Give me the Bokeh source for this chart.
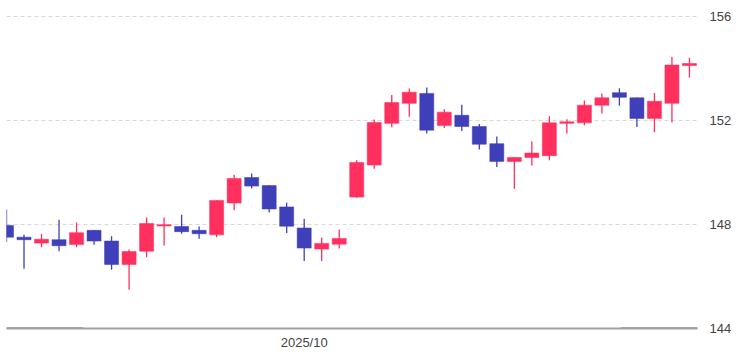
from bokeh.plotting import figure
from bokeh.models import Range1d, FixedTicker, ColumnDataSource
from bokeh.embed import file_html
from bokeh.resources import INLINE

dates = ["2025-09-08", "2025-09-09", "2025-09-10", "2025-09-11", "2025-09-12",
         "2025-09-15", "2025-09-16", "2025-09-17", "2025-09-18", "2025-09-19",
         "2025-09-22", "2025-09-23", "2025-09-24", "2025-09-25", "2025-09-26",
         "2025-09-29", "2025-09-30", "2025-10-01", "2025-10-02", "2025-10-03",
         "2025-10-06", "2025-10-07", "2025-10-08", "2025-10-09", "2025-10-10",
         "2025-10-13", "2025-10-14", "2025-10-15", "2025-10-16", "2025-10-17",
         "2025-10-20", "2025-10-21", "2025-10-22", "2025-10-23", "2025-10-24",
         "2025-10-27", "2025-10-28", "2025-10-29", "2025-10-30", "2025-10-31"]
opens = [147.96, 147.51, 147.28, 147.41, 147.23, 147.77, 147.36, 146.46, 146.97, 147.94,
         147.92, 147.77, 147.60, 148.82, 149.80, 149.49, 148.67, 147.86, 147.05, 147.24,
         149.05, 150.28, 151.88, 152.65, 153.03, 151.80, 152.19, 151.76, 151.10, 150.42,
         150.57, 150.64, 151.88, 151.90, 152.58, 153.06, 152.86, 152.07, 152.65, 154.10]
highs = [148.57, 147.60, 147.63, 148.18, 148.07, 147.78, 147.54, 147.03, 148.26, 148.26,
         148.37, 147.92, 148.93, 149.91, 149.95, 149.51, 148.83, 148.22, 147.50, 147.80,
         150.46, 152.03, 152.97, 153.22, 153.26, 152.42, 152.60, 151.86, 151.38, 150.58,
         151.19, 152.15, 152.04, 152.76, 153.03, 153.23, 152.87, 153.05, 154.43, 154.40]
lows = [147.32, 146.30, 147.12, 146.97, 147.12, 147.22, 146.26, 145.49, 146.74, 147.19,
        147.64, 147.45, 147.51, 148.54, 149.38, 148.46, 147.67, 146.59, 146.59, 147.07,
        149.01, 150.14, 151.73, 152.13, 151.49, 151.70, 151.59, 150.88, 150.20, 149.37,
        150.26, 150.46, 151.49, 151.81, 152.26, 152.56, 151.74, 151.54, 151.91, 153.64]
closes = [147.51, 147.41, 147.43, 147.18, 147.68, 147.36, 146.46, 146.96, 148.03, 147.99,
          147.72, 147.64, 148.92, 149.76, 149.47, 148.59, 147.93, 147.09, 147.27, 147.46,
          150.38, 151.91, 152.68, 153.08, 151.62, 152.31, 151.76, 151.08, 150.42, 150.57,
          150.74, 151.90, 151.94, 152.58, 152.86, 152.88, 152.07, 152.73, 154.12, 154.18]
y_ticks = [144, 148, 152, 156]
x_label = "2025/10"

UP = "#FF2F5E"
DOWN = "#3F3FBA"

n = len(dates)
xs = list(range(n))
colors = [UP if c >= o else DOWN for o, c in zip(opens, closes)]
src = ColumnDataSource(dict(
    x=xs,
    top=[max(o, c) for o, c in zip(opens, closes)],
    bottom=[min(o, c) for o, c in zip(opens, closes)],
    high=highs, low=lows, color=colors,
))

x_end = n - 0.54
p = figure(width=741, height=355, output_backend="svg", toolbar_location=None,
           x_range=Range1d(0, x_end), y_range=Range1d(y_ticks[0], 156.6),
           y_axis_location="right",
           min_border_left=6, min_border_right=44, min_border_top=0, min_border_bottom=27)
p.outline_line_color = None
p.background_fill_color = "white"

p.segment(x0="x", x1="x", y0="low", y1="high", color="color", line_width=1.3, source=src)
p.vbar(x="x", top="top", bottom="bottom", width=0.8, fill_color="color",
       line_color="color", line_alpha=0.55, line_width=1, source=src)

# bottom base line decorations (darker ends)
frac = 0.111
p.segment(x0=[0, x_end * (1 - frac)], x1=[x_end * frac, x_end],
          y0=[y_ticks[0]] * 2, y1=[y_ticks[0]] * 2, line_color="#555b61", line_width=2)

# grid
p.xgrid.visible = False
p.ygrid.ticker = FixedTicker(ticks=y_ticks[1:])
p.ygrid.grid_line_color = "#d9d9d9"
p.ygrid.grid_line_dash = "4 3"
p.ygrid.grid_line_width = 1

# y axis (right)
p.yaxis.ticker = FixedTicker(ticks=y_ticks)
p.yaxis.axis_line_color = None
p.yaxis.major_tick_line_color = None
p.yaxis.major_tick_out = 0
p.yaxis.major_tick_in = 0
p.yaxis.minor_tick_line_color = None
p.yaxis.major_label_standoff = 12
p.yaxis.major_label_text_font = "Liberation Sans"
p.yaxis.major_label_text_font_size = "13px"
p.yaxis.major_label_text_color = "#444444"

# x axis
oct_idx = next(i for i, d in enumerate(dates) if d.startswith("2025-10"))
p.xaxis.ticker = FixedTicker(ticks=[oct_idx])
p.xaxis.major_label_overrides = {oct_idx: x_label}
p.xaxis.axis_line_color = "#a0a0a0"
p.xaxis.axis_line_width = 2
p.xaxis.major_tick_line_color = None
p.xaxis.major_tick_out = 0
p.xaxis.major_tick_in = 0
p.xaxis.minor_tick_line_color = None
p.xaxis.major_label_standoff = 6
p.xaxis.major_label_text_font = "Liberation Sans"
p.xaxis.major_label_text_font_size = "13px"
p.xaxis.major_label_text_color = "#444444"

open("out.html", "w").write(file_html(p, INLINE))
